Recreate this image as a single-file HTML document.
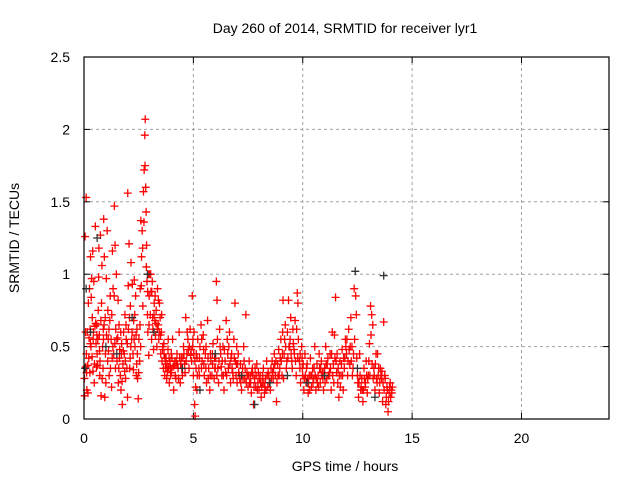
<!DOCTYPE html>
<html><head><meta charset="utf-8"><style>
html,body{margin:0;padding:0;background:#fff;}
svg{display:block;font-family:"Liberation Sans",Arial,sans-serif;}
</style></head><body>
<svg id="chart" width="640" height="480" viewBox="0 0 640 480">
<text x="345" y="33" font-size="14" text-anchor="middle" fill="#000">Day 260 of 2014, SRMTID for receiver lyr1</text>
<g id="grid"></g>
<g id="ticks"></g>
<g id="marks"></g>
<rect x="84" y="57" width="525" height="362" fill="none" stroke="#000" stroke-width="1.2"/>
<text x="345" y="471" font-size="14" text-anchor="middle">GPS time / hours</text>
<text transform="translate(19,238) rotate(-90)" font-size="14" text-anchor="middle">SRMTID / TECUs</text>
</svg>
<script>
const xTicks=[0,5,10,15,20];
const yTicks=[0,0.5,1,1.5,2,2.5];
const yTickLabels=["0","0.5","1","1.5","2","2.5"];
const redPoints=[
[0.02,0.28],[0.05,1.26],[0.08,0.36],[0.1,1.53],[0.12,0.32],[0.15,0.6],[0.18,0.18],[0.2,0.8],[0.22,0.42],[0.25,0.9],[0.28,0.62],[0.3,1.12],[0.32,0.5],[0.35,0.97],[0.38,0.7],[0.4,1.16],[0.42,0.55],[0.45,0.95],[0.48,0.38],[0.5,0.64],[0.52,1.33],[0.55,0.52],[0.58,0.65],[0.6,0.45],[0.62,0.37],[0.65,0.75],[0.68,1.18],[0.7,0.58],[0.72,0.3],[0.75,1.27],[0.78,0.16],[0.8,0.8],[0.82,1.06],[0.85,0.5],[0.88,0.62],[0.9,1.38],[0.92,0.65],[0.95,0.15],[0.98,0.45],
[0.03,0.16],[0.07,0.6],[0.13,0.2],[0.17,0.37],[0.23,0.56],[0.27,0.32],[0.33,0.84],[0.37,0.43],[0.43,0.6],[0.47,0.25],[0.53,0.66],[0.57,0.36],[0.63,0.55],[0.67,0.98],[0.73,0.4],[0.77,0.68],[0.83,0.28],[0.87,0.35],[0.93,1.12],[0.97,0.7],
[1.0,0.25],[1.03,0.58],[1.06,1.3],[1.09,0.75],[1.12,0.47],[1.15,0.3],[1.18,0.68],[1.21,0.35],[1.24,0.55],[1.27,0.72],[1.3,1.16],[1.33,0.9],[1.36,0.45],[1.39,1.47],[1.42,1.2],[1.45,0.62],[1.48,1.0],[1.51,0.4],[1.54,0.56],[1.57,0.25],[1.6,0.65],[1.63,0.48],[1.66,0.3],[1.69,0.2],[1.72,0.52],[1.75,0.1],[1.78,0.38],[1.81,0.6],[1.84,0.45],[1.87,0.72],[1.9,0.28],[1.93,0.55],[1.96,0.35],[1.99,0.15],
[1.02,0.97],[1.08,0.4],[1.14,0.62],[1.2,0.85],[1.26,0.22],[1.32,0.5],[1.38,0.85],[1.44,0.35],[1.5,0.55],[1.56,0.82],[1.62,0.42],[1.68,0.6],[1.74,0.26],[1.8,0.47],[1.86,0.33],[1.92,0.65],[1.98,0.52],
[2.0,1.56],[2.03,0.62],[2.06,1.21],[2.09,0.35],[2.12,0.78],[2.15,1.08],[2.18,0.55],[2.21,0.93],[2.24,0.45],[2.27,0.68],[2.3,0.96],[2.33,0.5],[2.36,0.85],[2.39,0.3],[2.42,0.62],[2.45,0.28],[2.48,0.14],[2.51,0.55],[2.54,0.4],[2.57,0.9],[2.6,1.37],[2.63,1.12],[2.66,1.3],[2.69,0.78],[2.72,1.57],[2.75,1.72],[2.78,1.96],[2.8,2.07],[2.82,1.6],[2.84,1.43],[2.86,1.2],[2.88,0.95],[2.9,0.72],[2.92,0.6],[2.94,1.0],[2.96,0.44],[2.98,0.85],
[2.02,0.92],[2.08,0.7],[2.14,0.5],[2.2,0.6],[2.26,0.34],[2.32,0.72],[2.38,0.58],[2.44,0.45],[2.5,0.32],[2.56,0.65],[2.62,0.92],[2.68,1.18],[2.74,1.36],[2.79,1.75],[2.85,1.05],[2.91,0.88],[2.97,0.65],
[3.0,1.0],[3.03,0.72],[3.06,0.88],[3.09,0.55],[3.12,0.95],[3.15,0.62],[3.18,0.48],[3.21,0.8],[3.24,0.68],[3.27,0.58],[3.3,0.75],[3.33,0.5],[3.36,0.9],[3.39,0.65],[3.42,0.55],[3.45,0.8],[3.48,0.7],[3.51,0.45],[3.54,0.6],[3.57,0.4],[3.6,0.5],[3.63,0.35],[3.66,0.45],[3.69,0.3],[3.72,0.38],[3.75,0.42],[3.78,0.28],[3.81,0.33],[3.84,0.48],[3.87,0.36],[3.9,0.25],[3.93,0.4],[3.96,0.3],[3.99,0.45],
[3.05,1.0],[3.1,0.88],[3.2,0.72],[3.25,0.85],[3.35,0.62],[3.4,0.82],[3.5,0.58],[3.55,0.72],[3.65,0.52],[3.7,0.42],[3.8,0.38],[3.85,0.55],[3.95,0.35],
[4.0,0.32],[4.05,0.55],[4.1,0.2],[4.15,0.4],[4.2,0.28],[4.25,0.45],[4.3,0.35],[4.35,0.6],[4.4,0.25],[4.45,0.42],[4.5,0.3],[4.55,0.5],[4.6,0.38],[4.65,0.7],[4.7,0.45],[4.75,0.55],[4.8,0.35],[4.85,0.62],[4.9,0.48],[4.95,0.85],[4.98,0.55],
[4.02,0.42],[4.12,0.37],[4.22,0.4],[4.32,0.28],[4.42,0.38],[4.52,0.42],[4.62,0.32],[4.72,0.6],[4.82,0.5],[4.92,0.4],
[5.0,0.3],[5.03,0.6],[5.06,0.1],[5.08,0.02],[5.1,0.22],[5.13,0.45],[5.16,0.2],[5.2,0.55],[5.25,0.35],[5.3,0.5],[5.35,0.65],[5.4,0.4],[5.45,0.58],[5.5,0.3],[5.55,0.45],[5.6,0.25],[5.65,0.68],[5.7,0.35],[5.75,0.2],[5.8,0.4],[5.85,0.3],[5.9,0.52],[5.95,0.28],
[5.02,0.45],[5.12,0.35],[5.18,0.3],[5.28,0.42],[5.38,0.55],[5.48,0.38],[5.58,0.5],[5.68,0.28],[5.78,0.45],[5.88,0.38],[5.98,0.35],
[6.0,0.35],[6.05,0.95],[6.1,0.55],[6.15,0.25],[6.2,0.62],[6.25,0.45],[6.3,0.3],[6.35,0.5],[6.4,0.2],[6.45,0.4],[6.5,0.68],[6.55,0.55],[6.6,0.35],[6.65,0.6],[6.7,0.25],[6.75,0.45],[6.8,0.32],[6.85,0.55],[6.9,0.8],[6.95,0.3],
[6.02,0.42],[6.08,0.82],[6.12,0.35],[6.22,0.5],[6.32,0.4],[6.42,0.48],[6.52,0.3],[6.62,0.5],[6.72,0.42],[6.82,0.28],[6.92,0.4],[6.98,0.5],
[7.0,0.25],[7.05,0.45],[7.1,0.3],[7.15,0.38],[7.2,0.2],[7.25,0.35],[7.3,0.5],[7.35,0.28],[7.4,0.72],[7.45,0.32],[7.5,0.22],[7.55,0.4],[7.6,0.3],[7.65,0.18],[7.7,0.35],[7.75,0.1],[7.8,0.28],[7.85,0.22],[7.9,0.38],[7.95,0.25],
[7.02,0.38],[7.12,0.28],[7.22,0.3],[7.32,0.4],[7.42,0.25],[7.52,0.3],[7.62,0.25],[7.72,0.3],[7.82,0.35],[7.92,0.2],
[8.0,0.2],[8.05,0.3],[8.1,0.15],[8.15,0.25],[8.2,0.35],[8.25,0.18],[8.3,0.28],[8.35,0.4],[8.4,0.22],[8.45,0.3],[8.5,0.25],[8.55,0.35],[8.6,0.4],[8.65,0.28],[8.7,0.45],[8.75,0.3],[8.8,0.12],[8.85,0.38],[8.9,0.48],[8.95,0.35],
[8.02,0.28],[8.12,0.22],[8.22,0.25],[8.32,0.2],[8.42,0.32],[8.52,0.2],[8.62,0.32],[8.72,0.38],[8.82,0.25],[8.92,0.3],
[9.0,0.55],[9.05,0.3],[9.1,0.82],[9.15,0.45],[9.2,0.65],[9.25,0.35],[9.3,0.6],[9.35,0.82],[9.4,0.5],[9.45,0.7],[9.5,0.4],[9.55,0.62],[9.6,0.48],[9.65,0.68],[9.7,0.3],[9.75,0.87],[9.8,0.55],[9.85,0.4],[9.9,0.25],[9.95,0.5],
[9.02,0.4],[9.08,0.6],[9.12,0.28],[9.22,0.5],[9.32,0.42],[9.42,0.55],[9.52,0.35],[9.62,0.45],[9.72,0.62],[9.78,0.8],[9.88,0.45],[9.98,0.35],
[10.0,0.3],[10.05,0.2],[10.1,0.45],[10.15,0.25],[10.2,0.38],[10.25,0.18],[10.3,0.3],[10.35,0.42],[10.4,0.22],[10.45,0.35],[10.5,0.28],[10.55,0.5],[10.6,0.2],[10.65,0.38],[10.7,0.3],[10.75,0.45],[10.8,0.25],[10.85,0.4],[10.9,0.32],[10.95,0.2],
[10.02,0.38],[10.12,0.3],[10.22,0.28],[10.32,0.2],[10.42,0.3],[10.52,0.35],[10.62,0.28],[10.72,0.22],[10.82,0.35],[10.92,0.28],
[11.0,0.35],[11.05,0.5],[11.1,0.28],[11.15,0.42],[11.2,0.3],[11.25,0.45],[11.3,0.2],[11.35,0.6],[11.4,0.38],[11.45,0.58],[11.5,0.84],[11.55,0.32],[11.6,0.25],[11.65,0.15],[11.7,0.4],[11.75,0.3],[11.8,0.48],[11.85,0.2],[11.9,0.35],[11.95,0.55],
[11.02,0.25],[11.12,0.38],[11.22,0.32],[11.32,0.45],[11.42,0.25],[11.52,0.4],[11.62,0.35],[11.72,0.22],[11.82,0.3],[11.92,0.42],
[12.0,0.45],[12.05,0.3],[12.1,0.62],[12.15,0.38],[12.2,0.7],[12.25,0.5],[12.3,0.35],[12.35,0.9],[12.45,0.72],[12.5,0.3],[12.55,0.15],[12.6,0.45],[12.65,0.2],[12.7,0.28],[12.75,0.12],[12.8,0.35],[12.85,0.22],[12.9,0.4],[12.95,0.18],
[12.02,0.55],[12.12,0.48],[12.22,0.4],[12.32,0.45],[12.42,0.85],[12.52,0.25],[12.62,0.3],[12.72,0.2],[12.82,0.28],[12.92,0.3],
[13.0,0.3],[13.05,0.52],[13.1,0.78],[13.15,0.72],[13.2,0.65],[13.25,0.35],[13.3,0.2],[13.35,0.45],[13.4,0.25],[13.45,0.3],[13.5,0.18],[13.55,0.35],[13.6,0.28],[13.65,0.12],[13.7,0.67],[13.75,0.3],[13.8,0.1],[13.85,0.22],[13.9,0.05],[13.95,0.18],[14.0,0.25],[14.05,0.2],[14.1,0.22],
[13.02,0.4],[13.12,0.58],[13.22,0.28],[13.32,0.38],[13.42,0.45],[13.52,0.25],[13.62,0.33],[13.72,0.2],[13.82,0.15],[13.92,0.12],[14.02,0.15],
[0.11,0.45],[0.29,0.52],[0.41,0.33],[0.59,0.58],[0.71,0.47],[0.89,0.55],[1.11,0.55],[1.29,0.42],[1.41,0.52],[1.59,0.35],[1.71,0.45],[1.89,0.4],[2.11,0.42],[2.29,0.55],[2.41,0.38],[2.59,0.5],
[3.14,0.7],[3.29,0.66],[3.44,0.6],[3.59,0.48],[3.74,0.35],[3.89,0.42],[4.07,0.36],[4.17,0.3],[4.27,0.38],[4.37,0.42],[4.47,0.35],[4.57,0.45],[4.67,0.4],[4.77,0.48],[4.87,0.44],[4.97,0.5],
[5.07,0.4],[5.17,0.42],[5.27,0.3],[5.37,0.35],[5.47,0.48],[5.57,0.35],[5.67,0.42],[5.77,0.3],[5.87,0.45],[5.97,0.42],[6.07,0.3],[6.17,0.4],[6.27,0.36],[6.37,0.3],[6.47,0.32],[6.57,0.45],[6.67,0.38],[6.77,0.35],[6.87,0.42],[6.97,0.38],
[7.07,0.32],[7.17,0.25],[7.27,0.28],[7.37,0.35],[7.47,0.3],[7.57,0.25],[7.67,0.32],[7.77,0.22],[7.87,0.3],[7.97,0.32],[8.07,0.25],[8.17,0.3],[8.27,0.22],[8.37,0.3],[8.47,0.25],[8.57,0.28],[8.67,0.35],[8.77,0.4],[8.87,0.3],[8.97,0.42],
[9.07,0.45],[9.17,0.55],[9.27,0.4],[9.37,0.5],[9.47,0.45],[9.57,0.52],[9.67,0.4],[9.77,0.42],[9.87,0.35],[9.97,0.42],[10.07,0.28],[10.17,0.35],[10.27,0.25],[10.37,0.3],[10.47,0.25],[10.57,0.3],[10.67,0.25],[10.77,0.35],[10.87,0.3],[10.97,0.32],
[11.07,0.38],[11.17,0.3],[11.27,0.35],[11.37,0.3],[11.47,0.42],[11.57,0.45],[11.67,0.3],[11.77,0.38],[11.87,0.42],[11.97,0.5],[12.07,0.4],[12.17,0.5],[12.27,0.3],[12.37,0.55],[12.47,0.42],[12.57,0.25],[12.67,0.22],[12.77,0.2],[12.87,0.25],[12.97,0.28],
[13.07,0.3],[13.17,0.38],[13.27,0.3],[13.37,0.28],[13.47,0.35],[13.57,0.3],[13.67,0.25],[13.77,0.28],[13.87,0.2],[13.97,0.22],[14.07,0.18]
];
const blackPoints=[
[0.05,0.35],[0.1,0.9],[0.3,0.6],[0.6,1.25],[1.0,0.5],[1.5,0.45],[2.2,0.7],[2.9,1.0],[3.2,0.6],[4.5,0.35],[5.3,0.2],[6.0,0.45],[7.2,0.3],[7.8,0.1],[8.5,0.25],[9.3,0.3],[10.2,0.25],[11.0,0.3],[12.4,1.02],[12.5,0.35],[13.7,0.99],[13.3,0.15]
];
const NS='http://www.w3.org/2000/svg';
const X0=84,X1=609,Y0=419,Y1=57,XMAX=24,YMAX=2.5;
function xs(v){return X0+(X1-X0)*v/XMAX;}
function ys(v){return Y0-(Y0-Y1)*v/YMAX;}
const grid=document.getElementById('grid'),ticks=document.getElementById('ticks'),marks=document.getElementById('marks');
function mk(tag,attrs,parent){const e=document.createElementNS(NS,tag);for(const k in attrs)e.setAttribute(k,attrs[k]);parent.appendChild(e);return e;}
xTicks.forEach(function(t){
  const x=xs(t);
  if(t>0){const g=mk('line',{x1:x,x2:x,y1:Y0,y2:Y1,stroke:'#a0a0a0','stroke-dasharray':'3,3','stroke-width':1},grid);
  
  }
  const l=mk('line',{x1:x,x2:x,y1:Y0,y2:Y0-6,stroke:'#000'},ticks);
  
  
  const l2=mk('line',{x1:x,x2:x,y1:Y1,y2:Y1+6,stroke:'#000'},ticks);
  
  
  const tx=mk('text',{x:x,y:443,'font-size':14,'text-anchor':'middle'},ticks);
  tx.textContent=String(t);
  
  
});
yTicks.forEach(function(t,i){
  const y=ys(t);
  if(t>0&&t<YMAX){const g=mk('line',{x1:X0,x2:X1,y1:y,y2:y,stroke:'#a0a0a0','stroke-dasharray':'3,3','stroke-width':1},grid);
  
  }
  const l=mk('line',{x1:X0,x2:X0+6,y1:y,y2:y,stroke:'#000'},ticks);
  
  
  const l2=mk('line',{x1:X1,x2:X1-6,y1:y,y2:y,stroke:'#000'},ticks);
  
  
  const tx=mk('text',{x:70,y:y+5,'font-size':14,'text-anchor':'end'},ticks);
  tx.textContent=yTickLabels[i];
  
  
});
function plus(p,color,name){
  const x=xs(p[0]),y=ys(p[1]),s=4;
  const e=mk('path',{d:'M'+(x-s)+' '+y+'H'+(x+s)+'M'+x+' '+(y-s)+'V'+(y+s),stroke:color,'stroke-width':1.3,fill:'none'},marks);
  
  
}
redPoints.forEach(function(p){plus(p,'#ff0000','red-point');});
blackPoints.forEach(function(p){plus(p,'#333333','black-point');});
</script>
</body></html>
